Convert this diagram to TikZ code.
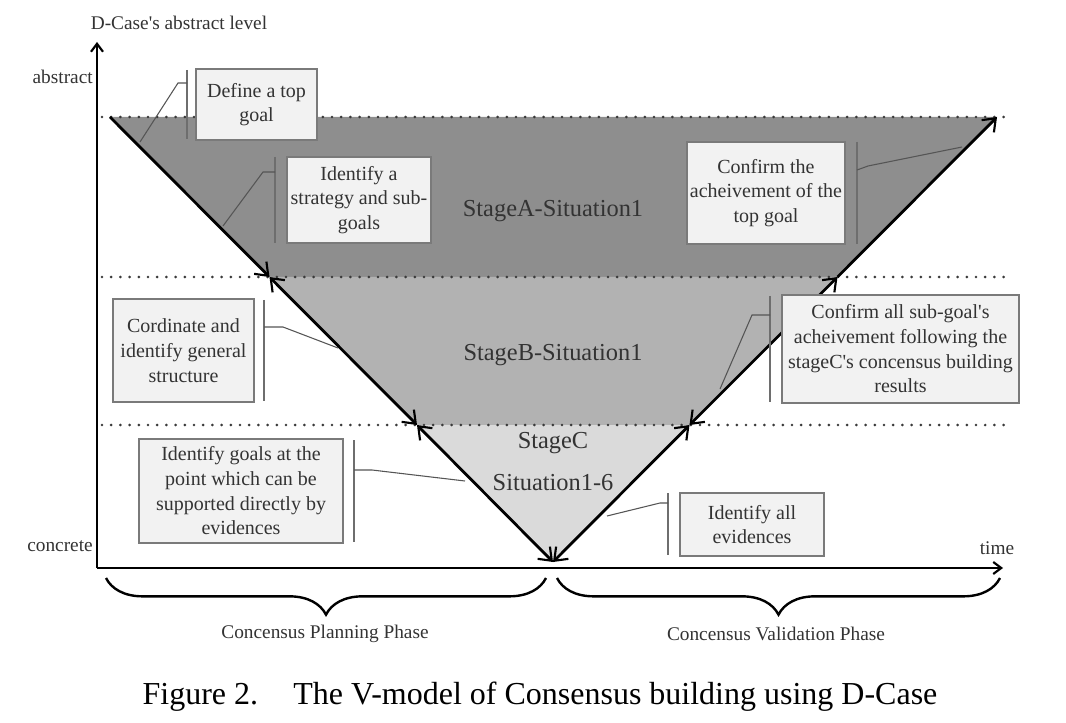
\documentclass[tikz,border=0pt]{standalone}
\usepackage{fontspec}
\setmainfont{Liberation Serif}[Ligatures=TeXOff]
\usetikzlibrary{arrows.meta,decorations.pathreplacing,shadows}
\definecolor{stA}{HTML}{8E8E8E}
\definecolor{stB}{HTML}{B2B2B2}
\definecolor{stC}{HTML}{DADADA}
\definecolor{boxfill}{HTML}{F2F2F2}
\definecolor{boxborder}{HTML}{7A7A7A}
\definecolor{txt}{HTML}{333333}
\definecolor{callgray}{HTML}{555555}
\definecolor{bargray}{HTML}{6E6E6E}
\definecolor{dotgray}{HTML}{3A3A3A}
\tikzset{
  barb/.tip={Straight Barb[length=8.5pt,width=13pt,line width=1.6pt]},
  axbarb/.tip={Straight Barb[length=6pt,width=9pt,line width=1.6pt]},
  vline/.style={line width=2.1pt, black},
  axisline/.style={line width=2pt, black},
  dotline/.style={line width=2.2pt, line cap=round, dash pattern=on 0pt off 6.9pt, dotgray},
  box/.style={draw=boxborder, line width=1.1pt, fill=boxfill, align=center,
    font=\fontsize{15}{18.5}\selectfont, text=txt, inner sep=0pt,
    drop shadow={shadow xshift=1pt, shadow yshift=-1pt, opacity=0.35, fill=black}},
  callout/.style={draw=callgray, line width=0.8pt},
  barline/.style={draw=bargray, line width=1.3pt},
  stagelbl/.style={font=\fontsize{18.3}{22}\selectfont, text=txt},
  axislbl/.style={font=\fontsize{14.5}{17}\selectfont, text=txt},
  phaselbl/.style={font=\fontsize{14.5}{17}\selectfont, text=txt},
  bracestyle/.style={line width=1.8pt, black, decorate,
    decoration={brace, mirror, amplitude=27.5pt}}
}
\begin{document}
\begin{tikzpicture}[x=0.75pt,y=-0.75pt]
\useasboundingbox (0,0) rectangle (1066,723);
% key points
\coordinate (TL) at (110,117);
\coordinate (TR) at (997,117);
\coordinate (AL) at (269.5,277);
\coordinate (AR) at (837.5,277);
\coordinate (BL) at (417,425);
\coordinate (BR) at (689.5,425);
\coordinate (V) at (553,562);
% fills
\fill[stA] (TL) -- (TR) -- (AR) -- (AL) -- cycle;
\fill[stB] (AL) -- (AR) -- (BR) -- (BL) -- cycle;
\fill[stC] (BL) -- (BR) -- (V) -- cycle;
% dotted levels
\coordinate (d1s) at (102,117); \coordinate (d1e) at (1006,117);
\coordinate (d2s) at (102,277); \coordinate (d2e) at (1006,277);
\coordinate (d3s) at (102,425); \coordinate (d3e) at (1006,425);
\draw[dotline] (d1s) -- (d1e);
\draw[dotline] (d2s) -- (d2e);
\draw[dotline] (d3s) -- (d3e);
% axes
\coordinate (O) at (97,568);
\coordinate (Ytop) at (97,42);
\coordinate (Xend) at (1003,568);
\draw[axisline,-axbarb] (O) -- (Ytop);
\draw[axisline,-axbarb] (O) -- (Xend);
% V arrows
\draw[vline,-barb] (TL) -- (AL);
\draw[vline,barb-barb] (AL) -- (BL);
\draw[vline,barb-barb] (BL) -- (V);
\draw[vline,barb-barb] (V) -- (BR);
\draw[vline,barb-barb] (BR) -- (AR);
\draw[vline,-barb] (AR) -- (TR);
% stage labels
\node[stagelbl] (sA) at (553,211) {StageA-Situation1};
\node[stagelbl] (sB) at (553,355) {StageB-Situation1};
\node[stagelbl] (sC1) at (553,443) {StageC};
\node[stagelbl] (sC2) at (553,483) {Situation1-6};
% boxes
\node[box, minimum width=90.75pt, minimum height=53.25pt] (b1) at (256.5,104.5) {Define a top\\goal};
\node[box, minimum width=108pt, minimum height=64.5pt] (b2) at (359,200) {Identify a\\strategy and sub-\\goals};
\node[box, minimum width=118.5pt, minimum height=76.5pt] (b3) at (766,193) {Confirm the\\acheivement of the\\top goal};
\node[box, minimum width=105.75pt, minimum height=77.25pt] (b4) at (183.5,350.5) {Cordinate and\\identify general\\structure};
\node[box, minimum width=177.75pt, minimum height=81pt] (b5) at (900.5,349) {Confirm all sub-goal's\\acheivement following the\\stageC's concensus building\\results};
\node[box, minimum width=153pt, minimum height=78pt] (b6) at (241,491) {Identify goals at the\\point which can be\\supported directly by\\evidences};
\node[box, minimum width=108pt, minimum height=47.25pt] (b7) at (752,524.5) {Identify all\\evidences};
% callouts: bars
\draw[barline] (187,70) -- (187,139);
\draw[barline] (275,157) -- (275,243);
\draw[barline] (857,142) -- (857,244);
\draw[barline] (264,300) -- (264,401);
\draw[barline] (770,296) -- (770,402);
\draw[barline] (354,440) -- (354,542);
\draw[barline] (668,493) -- (668,555);
% callouts: leader lines
\coordinate (c1) at (140,142);
\coordinate (c2) at (223,226);
\coordinate (c3) at (962,147);
\coordinate (c4) at (338,348);
\coordinate (c5) at (720,389);
\coordinate (c6) at (465,481);
\coordinate (c7) at (607,516);
\draw[callout] (187,83) -- (178,83) -- (c1);
\draw[callout] (275,172) -- (263,172) -- (c2);
\draw[callout] (857,170) -- (868,166) -- (c3);
\draw[callout] (264,327) -- (283,327) -- (c4);
\draw[callout] (770,315) -- (752,315) -- (c5);
\draw[callout] (354,470) -- (372,470) -- (c6);
\draw[callout] (668,503) -- (660,503) -- (c7);
% axis labels
\node[axislbl] (ylbl) at (179,23) {D-Case's abstract level};
\node[axislbl, anchor=east, inner sep=0pt] (abs) at (93,77) {abstract};
\node[axislbl, anchor=east, inner sep=0pt] (con) at (93,546) {concrete};
\node[axislbl] (time) at (997,548) {time};
% braces
\coordinate (br1s) at (106,578); \coordinate (br1e) at (546,578);
\coordinate (br2s) at (557,578); \coordinate (br2e) at (1000,578);
\draw[bracestyle] (br1s) -- (br1e);
\draw[bracestyle] (br2s) -- (br2e);
\node[phaselbl] (p1) at (325,634) {Concensus Planning Phase};
\node[phaselbl] (p2) at (776,634) {Concensus Validation Phase};
% caption
\node[font=\fontsize{24}{28}\selectfont, text=black] (cap) at (540,697) {Figure 2.\hspace{1.1em}The V-model of Consensus building using D-Case};
\end{tikzpicture}
\end{document}
